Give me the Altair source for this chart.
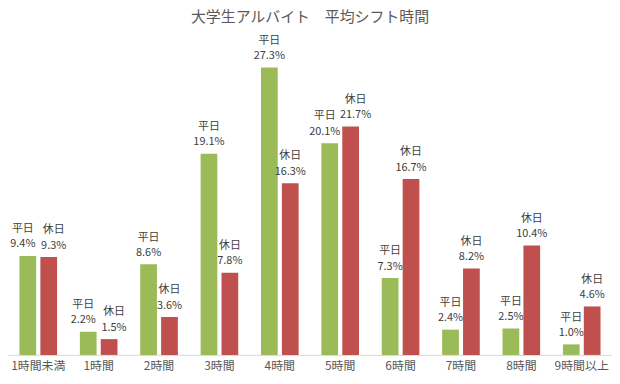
import altair as alt
import pandas as pd

categories = ["1時間未満", "1時間", "2時間", "3時間", "4時間", "5時間", "6時間", "7時間", "8時間", "9時間以上"]
series = ["平日", "休日"]
weekday = [9.4, 2.2, 8.6, 19.1, 27.3, 20.1, 7.3, 2.4, 2.5, 1.0]
holiday = [9.3, 1.5, 3.6, 7.8, 16.3, 21.7, 16.7, 8.2, 10.4, 4.6]
colors = ["#9BBB59", "#C0504D"]

rows = []
for c, w, h in zip(categories, weekday, holiday):
    near = 1 if abs(w - h) < 3 else 0
    rows.append({"cat": c, "series": series[0], "value": w, "label": f"{w:.1f}%", "near": near})
    rows.append({"cat": c, "series": series[1], "value": h, "label": f"{h:.1f}%", "near": near})
df = pd.DataFrame(rows)

FONT = "Noto Sans CJK JP"

x = alt.X("cat:N", sort=categories,
          scale=alt.Scale(paddingInner=0.377, paddingOuter=0.19),
          axis=alt.Axis(title=None, labelAngle=0, domainColor="#D9D9D9", domainWidth=1,
                        ticks=False, labelColor="#595959", labelFontSize=12,
                        labelFont=FONT, labelPadding=6, labelBaseline="top", grid=False))
xo = alt.XOffset("series:N", sort=series, scale=alt.Scale(paddingInner=0.2))
y = alt.Y("value:Q", scale=alt.Scale(domain=[0, 30]), axis=None)
color = alt.Color("series:N", sort=series,
                  scale=alt.Scale(domain=series, range=colors), legend=None)

base = alt.Chart(df).encode(x=x, xOffset=xo, y=y)

bars = base.mark_bar().encode(color=color)

layers = [bars]
for s, shift in ((series[0], -5), (series[1], 5)):
    for near in (0, 1):
        dx = shift if near else 0
        sub = base.transform_filter(
            f"datum.series == '{s}' && datum.near == {near}")
        layers.append(sub.mark_text(dx=dx, dy=-11.5, baseline="middle", fontSize=11,
                                    font=FONT, color="#404040").encode(text="label:N"))
        layers.append(sub.mark_text(dx=dx, dy=-27, baseline="middle", fontSize=11,
                                    font=FONT, color="#404040").encode(text="series:N"))

chart = alt.layer(*layers).properties(
    width=608, height=318,
    autosize=alt.AutoSizeParams(type="none"),
    padding={"left": 0, "top": 30, "right": 0, "bottom": 20},
    title=alt.TitleParams("大学生アルバイト　平均シフト時間", fontSize=15, font=FONT,
                          color="#595959", fontWeight="normal", offset=10,
                          anchor="middle"),
    background="white",
).configure_view(stroke=None)

chart.save("out.html", embed_options={"renderer": "svg", "actions": False})
